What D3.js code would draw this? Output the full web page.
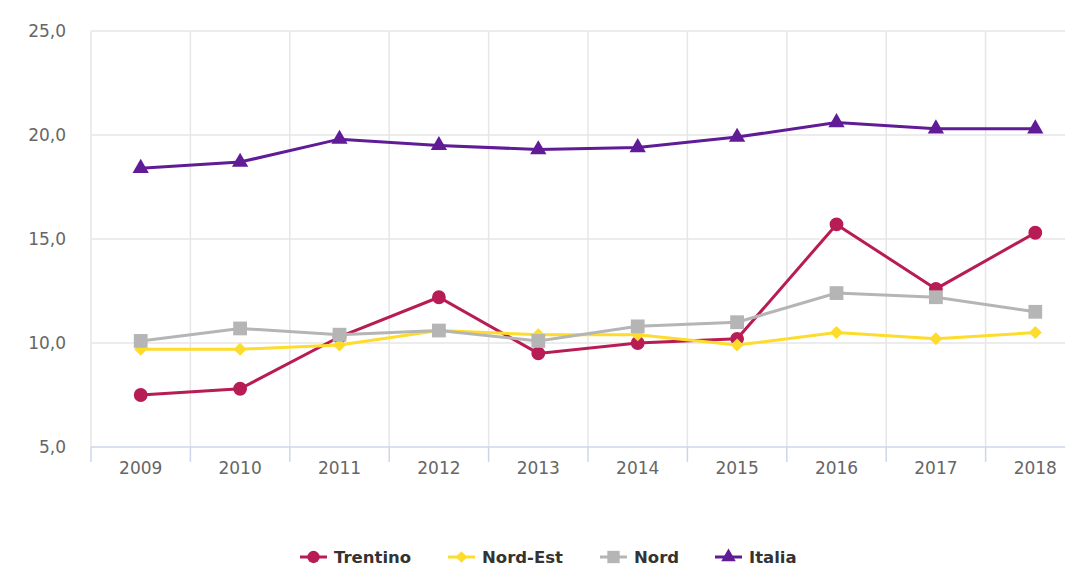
<!DOCTYPE html>
<html>
<head>
<meta charset="utf-8">
<script src="https://cdn.jsdelivr.net/npm/d3@7"></script>
<style>
	body { margin: 0; background: #fff; }
	text { font-family: "DejaVu Sans", sans-serif; }
</style>
</head>
<body>
<svg id="chart" width="1065" height="567"></svg>
<script>
var years = ["2009", "2010", "2011", "2012", "2013", "2014", "2015", "2016", "2017", "2018"];
var yTicks = [5, 10, 15, 20, 25];

var trentino = [7.5, 7.8, 10.3, 12.2, 9.5, 10.0, 10.2, 15.7, 12.6, 15.3];
var nordEst = [9.7, 9.7, 9.9, 10.6, 10.4, 10.4, 9.9, 10.5, 10.2, 10.5];
var nord = [10.1, 10.7, 10.4, 10.6, 10.1, 10.8, 11.0, 12.4, 12.2, 11.5];
var italia = [18.4, 18.7, 19.8, 19.5, 19.3, 19.4, 19.9, 20.6, 20.3, 20.3];

// square diamond like highcharts
var squareDiamond = {
	draw: function(ctx, size) {
		var r = Math.sqrt(size / 2);
		ctx.moveTo(0, -r);
		ctx.lineTo(r, 0);
		ctx.lineTo(0, r);
		ctx.lineTo(-r, 0);
		ctx.closePath();
	}
};

var seriesNames = ["Trentino", "Nord-Est", "Nord", "Italia"];
var seriesColors = ["#b81c54", "#fddc2c", "#b5b5b5", "#601b97"];
var seriesSymbols = [d3.symbolCircle, squareDiamond, d3.symbolSquare, d3.symbolTriangle];
var symbolSizes = [150, 85, 190, 115];

var series = seriesNames.map(function(name, i) {
	return { name: name, values: [trentino, nordEst, nord, italia][i], color: seriesColors[i], symbol: seriesSymbols[i], size: symbolSizes[i] };
});

var svg = d3.select("#chart");
var plotLeft = 91, plotTop = 31, plotBottom = 447, plotRight = 1085;

var x = d3.scaleBand().domain(years).range([plotLeft, plotRight]);
var y = d3.scaleLinear().domain([5, 25]).range([plotBottom, plotTop]);

// grid
svg.append("g").selectAll("line")
	.data(yTicks.slice(1))
	.enter().append("line")
	.attr("x1", plotLeft).attr("x2", 1065)
	.attr("y1", d => y(d)).attr("y2", d => y(d))
	.attr("stroke", "#e6e6e6").attr("stroke-width", 1.5);

svg.append("g").selectAll("line")
	.data(years)
	.enter().append("line")
	.attr("x1", d => x(d)).attr("x2", d => x(d))
	.attr("y1", plotTop).attr("y2", plotBottom)
	.attr("stroke", "#e6e6e6").attr("stroke-width", 1.5);

// y labels
svg.append("g").selectAll("text")
	.data(yTicks)
	.enter().append("text")
	.attr("x", 66).attr("y", d => y(d) + 6)
	.attr("text-anchor", "end")
	.attr("fill", "#666").style("font-size", "17px")
	.text(d => d3.format(".1f")(d).replace(".", ","));

// x axis
var xAxis = svg.append("g")
	.attr("transform", "translate(0," + plotBottom + ")")
	.call(d3.axisBottom(x).tickSize(0).tickPadding(15));
xAxis.select(".domain").attr("stroke", "#ccd6eb").attr("stroke-width", 1.5).attr("d", "M" + plotLeft + ",0H1065");
xAxis.selectAll("text").attr("fill", "#666").style("font-size", "17px").style("font-family", "DejaVu Sans, sans-serif");
xAxis.selectAll(".bound")
	.data(years)
	.enter().append("line")
	.attr("x1", d => x(d)).attr("x2", d => x(d))
	.attr("y1", 0).attr("y2", 15)
	.attr("stroke", "#ccd6eb").attr("stroke-width", 1.5);

// lines
var line = d3.line()
	.x((d, i) => x(years[i]) + x.bandwidth() / 2)
	.y(d => y(d));

series.forEach(function(s) {
	var g = svg.append("g");
	g.append("path")
		.attr("d", line(s.values))
		.attr("fill", "none")
		.attr("stroke", s.color)
		.attr("stroke-width", 3);
	g.selectAll("path.m")
		.data(s.values)
		.enter().append("path")
		.attr("class", "m")
		.attr("transform", (d, i) => "translate(" + (x(years[i]) + x.bandwidth() / 2) + "," + y(d) + ")")
		.attr("d", d3.symbol().type(s.symbol).size(s.size))
		.attr("fill", s.color);
});

// legend
var legendX = [300, 448, 600, 715];
var legend = svg.append("g").selectAll("g")
	.data(series)
	.enter().append("g")
	.attr("transform", (d, i) => "translate(" + legendX[i] + ",557)");
legend.append("line")
	.attr("x1", 0).attr("x2", 27)
	.attr("stroke", d => d.color).attr("stroke-width", 3);
legend.append("path")
	.attr("transform", "translate(13.5,0)")
	.attr("d", d => d3.symbol().type(d.symbol).size(d.size * 0.8)())
	.attr("fill", d => d.color);
legend.append("text")
	.attr("x", 34).attr("y", 6)
	.attr("fill", "#333")
	.style("font-size", "16.5px").style("font-weight", "bold")
	.text(d => d.name);
</script>
</body>
</html>
